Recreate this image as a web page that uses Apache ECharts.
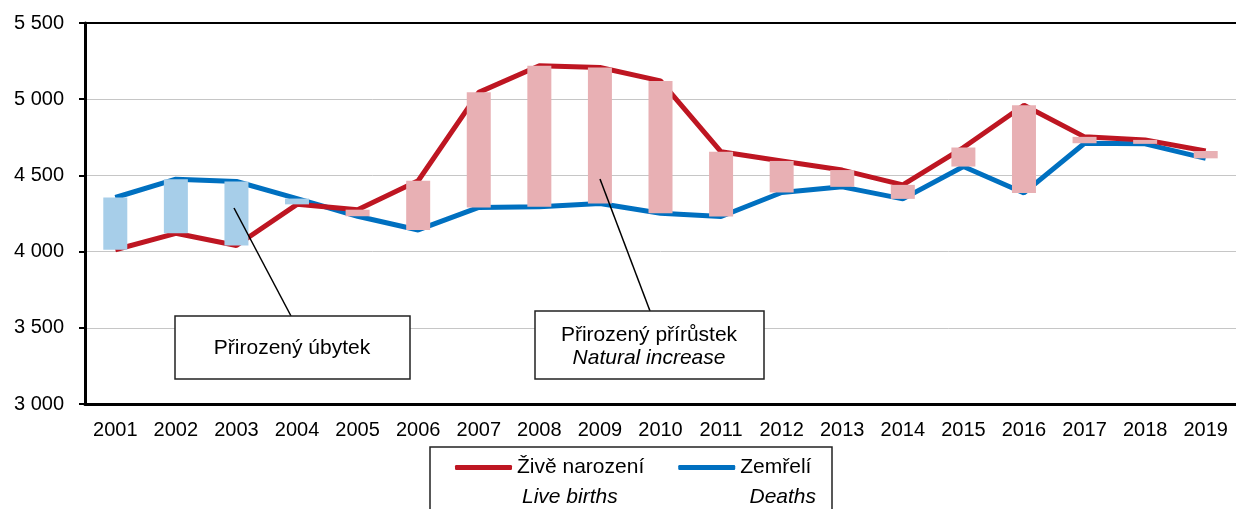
<!DOCTYPE html>
<html>
<head>
<meta charset="utf-8">
<script src="https://cdn.jsdelivr.net/npm/echarts@6/dist/echarts.min.js"></script>
<style>
  html, body { margin: 0; padding: 0; background: #fff; }
  #chart { width: 1236px; height: 509px; }
</style>
</head>
<body>
<div id="chart"></div>
<script>
const years = ['2001', '2002', '2003', '2004', '2005', '2006', '2007', '2008', '2009', '2010',
  '2011', '2012', '2013', '2014', '2015', '2016', '2017', '2018', '2019'];
const births = [4012, 4120, 4040, 4310, 4275, 4465, 5045, 5220, 5208, 5120,
  4655, 4595, 4535, 4438, 4683, 4960, 4753, 4733, 4660];
const deaths = [4355, 4475, 4460, 4348, 4232, 4142, 4290, 4295, 4315, 4252,
  4230, 4388, 4425, 4346, 4558, 4385, 4711, 4707, 4612];
const yTicks = [3000, 3500, 4000, 4500, 5000, 5500];

const FONT = "'Liberation Sans', Arial, sans-serif";
const RED = '#BE1622';
const BLUE = '#0070C0';
const PINK = '#E8B0B4';
const LIGHTBLUE = '#A7CEE9';

// floating bars: transparent base + difference
const base = births.map((b, i) => Math.min(b, deaths[i]));
const diff = births.map((b, i) => ({
  value: Math.abs(b - deaths[i]),
  itemStyle: { color: b >= deaths[i] ? PINK : LIGHTBLUE },
}));

const fmt = v => String(v).replace(/\B(?=(\d{3})+(?!\d))/g, ' ');

const chart = echarts.init(document.getElementById('chart'));

chart.setOption({
  animation: false,
  textStyle: { fontFamily: FONT },
  grid: { left: 85, right: 0, top: 23, bottom: 105 },
  legend: {
    data: ['Živě narození', 'Zemřelí'],
    left: 455,
    top: 457,
    padding: 0,
    itemGap: 34,
    itemWidth: 57,
    itemHeight: 5,
    icon: 'roundRect',
    textStyle: { fontSize: 21, color: '#000', fontFamily: FONT },
  },
  xAxis: [
    {
      type: 'category',
      data: years,
      boundaryGap: true,
      axisLine: { lineStyle: { color: '#000', width: 3 } },
      axisTick: { length: 6, lineStyle: { color: '#000', width: 2 } },
      axisLabel: { fontSize: 20, color: '#000', margin: 16, interval: 0 },
    },
    {
      type: 'category',
      data: years,
      position: 'top',
      axisLine: { lineStyle: { color: '#000', width: 2 } },
      axisTick: { show: false },
      axisLabel: { show: false },
    },
  ],
  yAxis: {
    type: 'value',
    min: yTicks[0],
    max: yTicks[yTicks.length - 1],
    interval: 500,
    axisLine: { show: true, lineStyle: { color: '#000', width: 3 } },
    axisTick: { show: true, length: 6, lineStyle: { color: '#000', width: 2 } },
    axisLabel: { fontSize: 20, color: '#000', margin: 21, formatter: fmt },
    splitLine: { lineStyle: { color: '#c6c6c6', width: 1 } },
  },
  series: [
    {
      name: 'Zemřelí',
      type: 'line',
      data: deaths,
      symbol: 'none',
      z: 2,
      itemStyle: { color: BLUE },
      lineStyle: { color: BLUE, width: 5 },
    },
    {
      name: 'Živě narození',
      type: 'line',
      data: births,
      symbol: 'none',
      z: 2,
      itemStyle: { color: RED },
      lineStyle: { color: RED, width: 5 },
    },
    {
      name: 'base',
      type: 'bar',
      stack: 'gap',
      data: base,
      barWidth: 24,
      silent: true,
      z: 3,
      itemStyle: { color: 'rgba(0,0,0,0)' },
    },
    {
      name: 'rozdíl',
      type: 'bar',
      stack: 'gap',
      data: diff,
      barWidth: 24,
      z: 3,
    },
  ],
  graphic: [
    // legend frame and english names
    { type: 'rect', shape: { x: 430, y: 447, width: 402, height: 90 },
      style: { fill: 'none', stroke: '#222', lineWidth: 1.5 }, z: 10 },
    { type: 'text', x: 522, y: 497, z: 10,
      style: { text: 'Live births', font: 'italic 21px ' + FONT, fill: '#000',
        textAlign: 'left', textVerticalAlign: 'middle' } },
    { type: 'text', x: 816, y: 497, z: 10,
      style: { text: 'Deaths', font: 'italic 21px ' + FONT, fill: '#000',
        textAlign: 'right', textVerticalAlign: 'middle' } },
    // annotation: natural decrease
    { type: 'line', shape: { x1: 234, y1: 208, x2: 291, y2: 316 },
      style: { stroke: '#000', lineWidth: 1.5 }, z: 10 },
    { type: 'rect', shape: { x: 175, y: 316, width: 235, height: 63 },
      style: { fill: '#fff', stroke: '#222', lineWidth: 1.5 }, z: 10 },
    { type: 'text', x: 292, y: 348, z: 11,
      style: { text: 'Přirozený úbytek', font: '21px ' + FONT, fill: '#000',
        textAlign: 'center', textVerticalAlign: 'middle' } },
    // annotation: natural increase
    { type: 'line', shape: { x1: 600, y1: 179, x2: 650, y2: 311 },
      style: { stroke: '#000', lineWidth: 1.5 }, z: 10 },
    { type: 'rect', shape: { x: 535, y: 311, width: 229, height: 68 },
      style: { fill: '#fff', stroke: '#222', lineWidth: 1.5 }, z: 10 },
    { type: 'text', x: 649, y: 335, z: 11,
      style: { text: 'Přirozený přírůstek', font: '21px ' + FONT, fill: '#000',
        textAlign: 'center', textVerticalAlign: 'middle' } },
    { type: 'text', x: 649, y: 358, z: 11,
      style: { text: 'Natural increase', font: 'italic 21px ' + FONT, fill: '#000',
        textAlign: 'center', textVerticalAlign: 'middle' } },
  ],
});
</script>
</body>
</html>
